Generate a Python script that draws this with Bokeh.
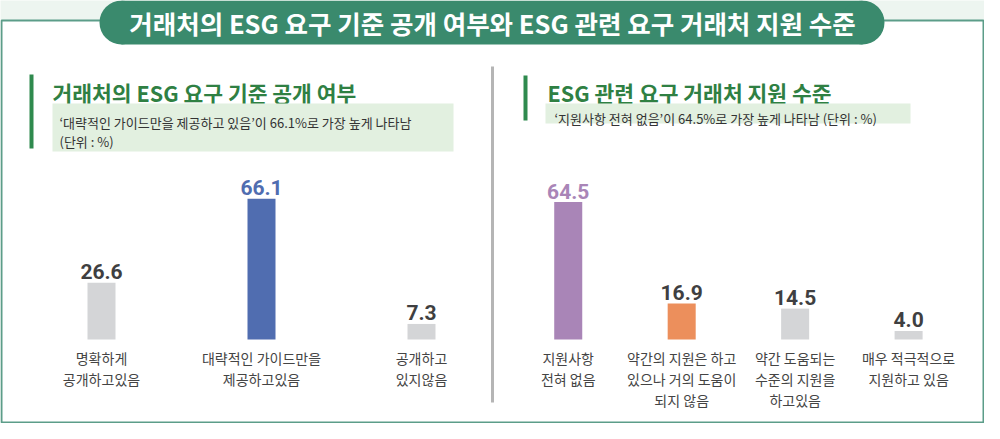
from bokeh.plotting import figure
from bokeh.models import Range1d, ColumnDataSource
from bokeh.core.properties import value
from bokeh.embed import file_html
from bokeh.resources import INLINE

# ---------------- data ----------------
title_text = "거래처의 ESG 요구 기준 공개 여부와 ESG 관련 요구 거래처 지원 수준"

left_title = "거래처의 ESG 요구 기준 공개 여부"
left_note = ["‘대략적인 가이드만을 제공하고 있음’이 66.1%로 가장 높게 나타남", "(단위 : %)"]
left_categories = ["명확하게\n공개하고있음", "대략적인 가이드만을\n제공하고있음", "공개하고\n있지않음"]
left_values = [26.6, 66.1, 7.3]
left_colors = ["#d4d5d7", "#506db0", "#d4d5d7"]
left_label_colors = ["#3f3f41", "#506db0", "#3f3f41"]

right_title = "ESG 관련 요구 거래처 지원 수준"
right_note = ["‘지원사항 전혀 없음’이 64.5%로 가장 높게 나타남 (단위 : %)"]
right_categories = ["지원사항\n전혀 없음", "약간의 지원은 하고\n있으나 거의 도움이\n되지 않음",
                    "약간 도움되는\n수준의 지원을\n하고있음", "매우 적극적으로\n지원하고 있음"]
right_values = [64.5, 16.9, 14.5, 4.0]
right_colors = ["#a985b7", "#ec8f5c", "#d4d5d7", "#d4d5d7"]
right_label_colors = ["#a985b7", "#3f3f41", "#3f3f41", "#3f3f41"]

KR = value("Noto Sans CJK KR")
NUM = value("Roboto")

p = figure(width=984, height=423,
           x_range=Range1d(-0.63125, 5.51875), y_range=Range1d(-39.44, 159.15),
           output_backend="svg", toolbar_location=None, min_border=0,
           x_axis_location=None, y_axis_location=None,
           background_fill_color="#edf5f0", border_fill_color="#edf5f0",
           outline_line_color=None)
p.grid.visible = False
p.extra_x_ranges = {"right": Range1d(-5.004, 3.669), "px": Range1d(8, 992)}
p.extra_y_ranges = {"px": Range1d(431, 8)}
PX = dict(x_range_name="px", y_range_name="px")

# ---- decorations ----
p.quad(left=[9], right=[991], top=[28], bottom=[430], fill_color="white",
       line_color="#5c9d89", line_width=2, **PX)
p.quad(left=[129], right=[870], top=[8], bottom=[52], fill_color="#3a8a6d",
       line_color=None, **PX)
p.circle(x=[129, 870], y=[30, 30], radius=22, fill_color="#3a8a6d", line_color=None, **PX)
p.text(x=[500], y=[30], text=[title_text], text_align="center", text_baseline="middle",
       text_color="white", text_font_size="25.5px", text_font_style="bold", text_font=KR, **PX)

# divider
p.segment(x0=[500], y0=[74], x1=[500], y1=[410], line_color="#b5b5b5", line_width=3, **PX)

# section headers
p.quad(left=[37, 531], right=[41, 535], top=[82, 83], bottom=[156, 128],
       fill_color="#2f8a4e", line_color=None, **PX)
p.text(x=[60, 555], y=[100, 100], text=[left_title, right_title], text_align="left",
       text_baseline="alphabetic", text_color="#2f8043", text_font_size="21.5px",
       text_font_style="bold", text_font=KR, **PX)
p.quad(left=[60, 553], right=[461, 918], top=[111, 111], bottom=[159, 131],
       fill_color="#e2f0e0", line_color=None, **PX)
p.text(x=[67, 67, 562], y=[130, 149, 126], text=left_note + right_note, text_align="left",
       text_baseline="alphabetic", text_color="#333333", text_font_size="13px", text_font=KR, **PX)


def draw_chart(values, colors, label_colors, cats, width, rng):
    extra = {} if rng is None else {"x_range_name": rng}
    idx = list(range(len(values)))
    src = ColumnDataSource(dict(x=idx, top=values, color=colors, lc=label_colors,
                                lab=[f"{v:.1f}" for v in values]))
    p.vbar(x="x", top="top", bottom=0, width=width, fill_color="color", line_color=None,
           source=src, **extra)
    p.text(x="x", y="top", text="lab", text_color="lc", text_align="center",
           text_baseline="alphabetic", y_offset=-11, text_font_size="21px",
           text_font_style="bold", text_font=NUM, source=src, **extra)
    split = [c.split("\n") for c in cats]
    nlines = max(len(s) for s in split)
    for j in range(nlines):
        xs = [i for i, s in enumerate(split) if len(s) > j]
        ts = [s[j] for s in split if len(s) > j]
        p.text(x=xs, y=[0] * len(xs), text=ts, text_align="center", text_baseline="middle",
               y_offset=18.5 + 21 * j, text_color="#444444", text_font_size="14px",
               text_font=KR, **extra)


draw_chart(left_values, left_colors, left_label_colors, left_categories, 0.175, None)
draw_chart(right_values, right_colors, right_label_colors, right_categories, 0.247, "right")

open("out.html", "w").write(file_html(p, INLINE))
